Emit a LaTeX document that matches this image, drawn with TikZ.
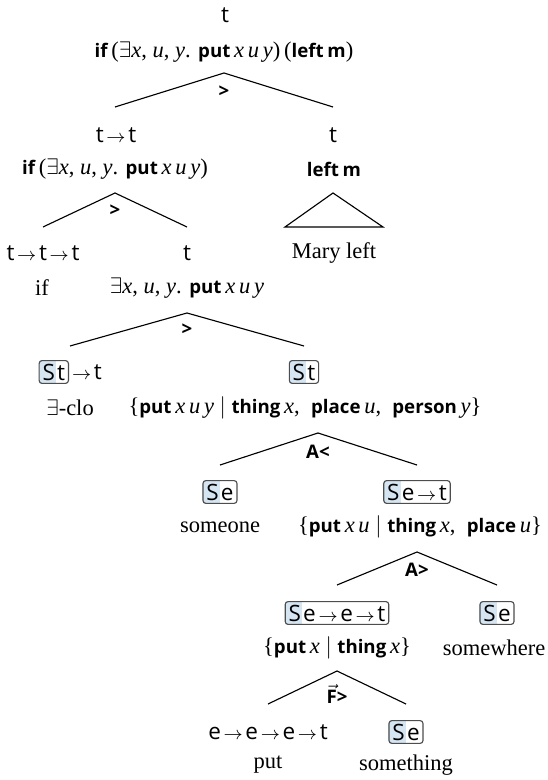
\documentclass[tikz,border=0pt]{standalone}
\usepackage{fontspec}
\setmainfont{Liberation Serif}
\newfontfamily\tyfont{Open Sans}
\newfontfamily\bsans{Open Sans}[Scale=0.83]
\definecolor{sblue}{HTML}{D5E5F2}
\definecolor{sborder}{HTML}{4D4D4D}
\usetikzlibrary{backgrounds}
\newcommand\bt[1]{{\bsans\bfseries #1}}
\newcommand\vi[1]{\textit{#1}}
\newcommand\arr{\hspace{1.2pt}{\fontsize{8}{9}\selectfont$\to$}\hspace{1.2pt}}
\newcommand\ex{$\exists$}
\newlength\Swd
\newcommand\Sfill[1]{%
  \begin{pgfonlayer}{background}
    \begin{scope}
      \clip[rounded corners=1.3pt] (#1.south west) rectangle (#1.north east);
      \fill[sblue] (#1.south west) rectangle ([xshift=\Swd]#1.north west);
    \end{scope}
  \end{pgfonlayer}}
\begin{document}
\settowidth\Swd{\tyfont S}\addtolength\Swd{2.3pt}%
\begin{tikzpicture}[x={(0.4444pt,0)},y={(0,-0.4444pt)},
  every node/.style={inner sep=0pt},
  ty/.style={font=\tyfont},
  stype/.style={draw=sborder, rounded corners=1.3pt, inner xsep=1.5pt, inner ysep=1.4pt,
    line width=0.5pt, font=\tyfont},
  lbl/.style={font=\bsans\bfseries},
  br/.style={line width=0.5pt, line join=miter}]
\useasboundingbox (0,0) rectangle (547,780);

% level 0
\node[ty] (t0) at (225,15) {t};
\node (m0) at (224,52) {\bt{if}\,(\ex\vi{x}, \vi{u}, \vi{y}. \bt{put}\,\vi{x}\,\vi{u}\,\vi{y})\,(\bt{left}\,\bt{m})};
\coordinate (a0) at (224,73);
\coordinate (a0l) at (115,107);
\coordinate (a0r) at (333,107);
\draw[br] (a0l) -- (a0) -- (a0r);
\node[lbl] (l0) at (224,92) {>};

% level 1
\node[ty] (t1) at (116,135) {t\arr t};
\node (m1) at (115,169) {\bt{if}\,(\ex\vi{x}, \vi{u}, \vi{y}. \bt{put}\,\vi{x}\,\vi{u}\,\vi{y})};
\node[ty] (t2) at (333,135) {t};
\node (m2) at (334,169) {\bt{left}\,\bt{m}};
\coordinate (a1) at (115,193);
\coordinate (a1l) at (43,227);
\coordinate (a1r) at (187,227);
\draw[br] (a1l) -- (a1) -- (a1r);
\node[lbl] (l1) at (115,211) {>};
\coordinate (tr) at (333,193);
\coordinate (trl) at (285,227);
\coordinate (trr) at (383,227);
\draw[br] (tr) -- (trl) -- (trr) -- cycle;

% level 2
\node[ty] (t3) at (43,253) {t\arr t\arr t};
\node (m3) at (42,288) {if};
\node[ty] (t4) at (187,253) {t};
\node (m4) at (187,288) {\ex\vi{x}, \vi{u}, \vi{y}. \bt{put}\,\vi{x}\,\vi{u}\,\vi{y}};
\node (m5) at (334,253) {Mary left};
\coordinate (a3) at (187,313);
\coordinate (a3l) at (70,346);
\coordinate (a3r) at (304,346);
\draw[br] (a3l) -- (a3) -- (a3r);
\node[lbl] (l3) at (187,330) {>};

% level 3
\node[stype, anchor=east] (t5) at (69,372) {S\hspace{1pt}t};
\Sfill{t5}
\node[ty, anchor=west] (t5b) at (t5.east) {\arr t};
\node (m5b) at (70,408) {\ex-clo};
\node[stype] (t6) at (304,372) {S\hspace{1pt}t};
\Sfill{t6}
\node (m6) at (305,408) {\{\bt{put}\,\vi{x}\,\vi{u}\,\vi{y} $|$ \bt{thing}\,\vi{x},\ \ \bt{place}\,\vi{u},\ \ \bt{person}\,\vi{y}\}};
\coordinate (a4) at (318,433);
\coordinate (a4l) at (220,465);
\coordinate (a4r) at (417,465);
\draw[br] (a4l) -- (a4) -- (a4r);
\node[lbl] (l4) at (318,452) {A<};

% level 4
\node[stype] (t7) at (220,492) {S\hspace{1pt}e};
\Sfill{t7}
\node (m7) at (220,527) {someone};
\node[stype] (t8) at (417,492) {S\hspace{1pt}e\arr t};
\Sfill{t8}
\node (m8) at (420,527) {\{\bt{put}\,\vi{x}\,\vi{u} $|$ \bt{thing}\,\vi{x},\ \ \bt{place}\,\vi{u}\}};
\coordinate (a5) at (417,552);
\coordinate (a5l) at (337,585);
\coordinate (a5r) at (497,585);
\draw[br] (a5l) -- (a5) -- (a5r);
\node[lbl] (l5) at (417,570) {A>};

% level 5
\node[stype] (t9) at (337,613) {S\hspace{1pt}e\arr e\arr t};
\Sfill{t9}
\node (m9) at (337,648) {\{\bt{put}\,\vi{x} $|$ \bt{thing}\,\vi{x}\}};
\node[stype] (t10) at (497,613) {S\hspace{1pt}e};
\Sfill{t10}
\node (m10) at (494,648) {somewhere};
\coordinate (a6) at (337,671);
\coordinate (a6l) at (268,704);
\coordinate (a6r) at (406,704);
\draw[br] (a6l) -- (a6) -- (a6r);
\node[lbl] (l6) at (337,694) {$\vec{\mbox{\bsans\bfseries F}}$>};

% level 6
\node[ty] (t11) at (268,732) {e\arr e\arr e\arr t};
\node (m11) at (268,765) {put};
\node[stype] (t12) at (406,732) {S\hspace{1pt}e};
\Sfill{t12}
\node (m12) at (406,765) {something};
\end{tikzpicture}
\end{document}
